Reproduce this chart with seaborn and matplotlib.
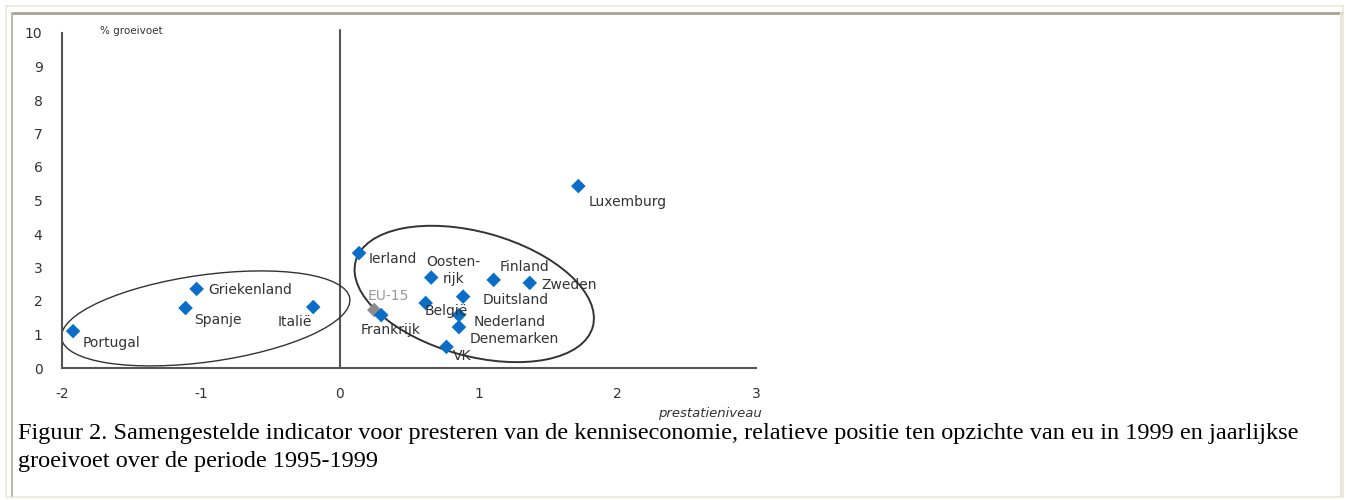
import numpy as np
import pandas as pd
import matplotlib
matplotlib.use("Agg")
import matplotlib.pyplot as plt
import matplotlib.transforms as mtransforms
from matplotlib.patches import Ellipse, Rectangle
from matplotlib.lines import Line2D
import seaborn as sns

# ---- data ----
countries = ["Portugal", "Griekenland", "Spanje", "Italië", "Ierland", "EU-15",
             "Frankrijk", "Oosten-\nrijk", "Finland", "Zweden", "Duitsland",
             "België", "Nederland", "Denemarken", "VK", "Luxemburg"]
prestatie = [-1.92, -1.03, -1.11, -0.19, 0.14, 0.25, 0.30, 0.66, 1.11, 1.37,
             0.89, 0.62, 0.86, 0.86, 0.77, 1.72]
groei = [1.10, 2.36, 1.79, 1.82, 3.43, 1.73, 1.58, 2.70, 2.63, 2.54,
         2.13, 1.94, 1.58, 1.22, 0.63, 5.43]
groep = ["land" if c != "EU-15" else "eu" for c in countries]

x_ticks = [-2, -1, 0, 1, 2, 3]
y_ticks = list(range(0, 11))
caption = ("Figuur 2. Samengestelde indicator voor presteren van de kenniseconomie, "
           "relatieve positie ten opzichte van eu in 1999 en jaarlijkse\n"
           "groeivoet over de periode 1995-1999")

df = pd.DataFrame({"land": countries, "prestatie": prestatie,
                   "groei": groei, "groep": groep})

# label offsets in pixels (text anchor relative to the marker)
label_offsets = {
    "Portugal": (10, -12), "Griekenland": (12, -1), "Spanje": (9, -12),
    "Italië": (-36, -15), "Ierland": (10, -6), "EU-15": (-7, 14),
    "Frankrijk": (-21, -15), "Oosten-\nrijk": (22, 7), "Finland": (6, 13),
    "Zweden": (12, -2), "Duitsland": (19, -3), "België": (-1, -8),
    "Nederland": (15, -7), "Denemarken": (11, -12), "VK": (6, -9),
    "Luxemburg": (10, -16),
}

sns.set_theme(style="white")
plt.rcParams["font.family"] = ["DejaVu Sans"]
plt.rcParams["axes.unicode_minus"] = False

fig = plt.figure(figsize=(13.46, 5.0), dpi=100)
fig.patch.set_facecolor("white")

# page frame
fig.add_artist(Rectangle((6 / 1346, 3 / 500), 1337 / 1346, 491 / 500,
                         transform=fig.transFigure, fill=False,
                         edgecolor="#eeebdf", lw=1.5))
fig.add_artist(Line2D([13 / 1346, 1341 / 1346], [487 / 500, 487 / 500],
                      transform=fig.transFigure, color="#a8a494", lw=2))
fig.add_artist(Line2D([12 / 1346, 12 / 1346], [4 / 500, 487 / 500],
                      transform=fig.transFigure, color="#bdb9aa", lw=1.5))
fig.add_artist(Line2D([1341 / 1346, 1341 / 1346], [4 / 500, 487 / 500],
                      transform=fig.transFigure, color="#e9e6d6", lw=1.5))

ax = fig.add_axes([62 / 1346, 132 / 500, 694 / 1346, 335 / 500])
ax.set_facecolor("white")

sns.scatterplot(data=df, x="prestatie", y="groei", hue="groep",
                palette={"land": "#0a6ec8", "eu": "#8c8c8c"},
                marker="D", s=55, edgecolor="none", legend=False, ax=ax, zorder=3)

ax.set_xlim(-2, 3)
ax.set_ylim(0, 10)
ax.set_xticks(x_ticks)
ax.set_yticks(y_ticks)
ax.set_xlabel("")
ax.set_ylabel("")
ax.tick_params(axis="both", length=0, labelsize=10, labelcolor="#333333")
ax.tick_params(axis="x", pad=14)
ax.tick_params(axis="y", pad=14)
for side in ["top", "right"]:
    ax.spines[side].set_visible(False)
for side in ["left", "bottom"]:
    ax.spines[side].set_color("#555555")
    ax.spines[side].set_linewidth(1.5)
ax.grid(False)

# vertical line through x = 0
ax.plot([0, 0], [0, 10.1], color="#555555", lw=1.5, clip_on=False, zorder=2)

# labels next to the markers
for name, xv, yv in zip(countries, prestatie, groei):
    dx, dy = label_offsets[name]
    if name == "Oosten-\nrijk":
        ax.annotate(name, (xv, yv), xytext=(dx, dy), textcoords="offset pixels",
                    ha="center", va="center", multialignment="center",
                    linespacing=1.35, fontsize=10, color="#333333")
    else:
        ax.annotate(name, (xv, yv), xytext=(dx, dy), textcoords="offset pixels",
                    ha="left", va="center", fontsize=10,
                    color="#999999" if name == "EU-15" else "#333333")

# hand-drawn style cluster ellipses (sizes in pixels, centres in data units)
def cluster_ellipse(cx, cy, w_px, h_px, angle, lw):
    trans = fig.dpi_scale_trans + mtransforms.ScaledTranslation(cx, cy, ax.transData)
    e = Ellipse((0, 0), w_px / 100, h_px / 100, angle=angle, transform=trans,
                fill=False, edgecolor="#333333", lw=lw, zorder=2)
    ax.add_patch(e)

cluster_ellipse(-0.965, 1.48, 291, 87, 7.9, 1.0)
cluster_ellipse(0.97, 2.21, 246, 124, -15.5, 1.4)

# axis titles
fig.text(100 / 1346, 1 - 31 / 500, "% groeivoet", fontsize=7.5, color="#333333",
         ha="left", va="center")
fig.text(658 / 1346, 1 - 414 / 500, "prestatieniveau", fontsize=9.5,
         style="italic", color="#333333", ha="left", va="center")

# caption
fig.text(18 / 1346, 1 - 423 / 500, caption, fontsize=17.5,
         family="Liberation Serif", color="black", ha="left", va="top",
         linespacing=1.42)

fig.savefig("out.png", dpi=100)
